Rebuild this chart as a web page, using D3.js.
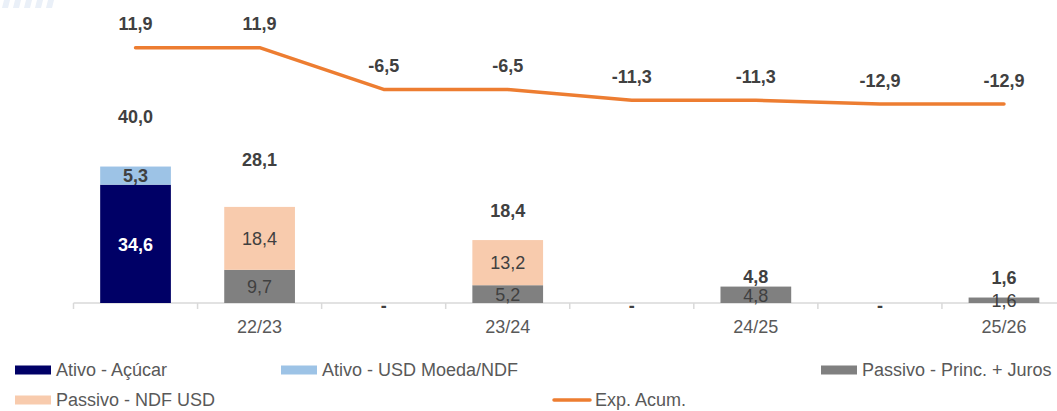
<!DOCTYPE html>
<html>
<head>
<meta charset="utf-8">
<script src="https://cdn.jsdelivr.net/npm/d3@7"></script>
<style>
  body { margin: 0; background: #fff; }
  svg { display: block; font-family: "Liberation Sans", Arial, sans-serif; }
</style>
</head>
<body>
<div class="js-chart"></div>
<script>
'use strict';

// categories on the x axis (empty slots are the asset columns)
var categories = ['', '22/23', '', '23/24', '', '24/25', '', '25/26'];

// stacked series
var ativoAcucar = [34.6, 0, 0, 0, 0, 0, 0, 0];
var ativoUsd = [5.3, 0, 0, 0, 0, 0, 0, 0];
var passivoPrinc = [0, 9.7, 0, 5.2, 0, 4.8, 0, 1.6];
var passivoNdf = [0, 18.4, 0, 13.2, 0, 0, 0, 0];

// column totals as labelled in the source (0 shows as "-")
var totals = [40.0, 28.1, 0, 18.4, 0, 4.8, 0, 1.6];

// line series
var expAcum = [11.9, 11.9, -6.5, -6.5, -11.3, -11.3, -12.9, -12.9];

var series = [
    {key: 'Ativo - Açúcar', values: ativoAcucar, color: '#000066', label: '#ffffff', bold: true},
    {key: 'Ativo - USD Moeda/NDF', values: ativoUsd, color: '#9dc3e6', label: '#404040', bold: true},
    {key: 'Passivo - Princ. + Juros', values: passivoPrinc, color: '#808080', label: '#404040', bold: false},
    {key: 'Passivo - NDF USD', values: passivoNdf, color: '#f8cbad', label: '#404040', bold: false}
];

var W = 1057, H = 411;
var axisY = 303;

var fmt = function (v) { return d3.format('.1f')(v).replace('.', ',').replace('\u2212', '-'); };

var svg = d3.select('.js-chart').append('svg')
    .attr('width', W)
    .attr('height', H);

//faint decoration at top left
svg.selectAll('.deco').data(d3.range(5)).enter().append('path')
    .attr('d', function (i) {
        var px = 4 + i * 11;
        return 'M' + px + ' 0 h6 l-2 8 h-6 z';
    })
    .style('fill', '#eaf0f8');

var x = d3.scaleBand()
    .domain(d3.range(categories.length))
    .range([73.5, 1066])
    .paddingInner(0.43)
    .paddingOuter(0.215);

var y = d3.scaleLinear().domain([0, 40]).range([axisY, 166.2]);
var yLine = d3.scaleLinear().domain([-20, 20]).range([120.1, 29.3]);

var step = x.step();
var x0 = 73.5;
var cx = function (i) { return x(i) + x.bandwidth() / 2; };

//axis line and ticks
svg.append('line')
    .attr('x1', x0).attr('x2', W)
    .attr('y1', axisY).attr('y2', axisY)
    .style('stroke', '#d9d9d9').style('stroke-width', 1.5);

svg.selectAll('.tick').data(d3.range(categories.length)).enter().append('line')
    .attr('x1', function (i) { return x0 + i * step; })
    .attr('x2', function (i) { return x0 + i * step; })
    .attr('y1', axisY).attr('y2', axisY + 6)
    .style('stroke', '#d9d9d9').style('stroke-width', 1.5);

//stacked bars
var stackData = categories.map(function (c, i) {
    var o = {i: i};
    series.forEach(function (s) { o[s.key] = s.values[i]; });
    return o;
});
var stacked = d3.stack().keys(series.map(function (s) { return s.key; }))(stackData);

stacked.forEach(function (layer, li) {
    var s = series[li];
    var g = svg.append('g');
    var nonZero = layer.filter(function (d) { return d[1] - d[0] > 0; });
    g.selectAll('rect').data(nonZero).enter().append('rect')
        .attr('x', function (d) { return x(d.data.i); })
        .attr('width', x.bandwidth())
        .attr('y', function (d) { return y(d[1]); })
        .attr('height', function (d) { return y(d[0]) - y(d[1]); })
        .style('fill', s.color);

    g.selectAll('text').data(nonZero).enter().append('text')
        .attr('x', function (d) { return cx(d.data.i); })
        .attr('y', function (d) { return (y(d[0]) + y(d[1])) / 2 + 2; })
        .attr('text-anchor', 'middle')
        .attr('dominant-baseline', 'middle')
        .style('font-size', '18px')
        .style('font-weight', s.bold ? 'bold' : 'normal')
        .style('fill', s.label)
        .text(function (d) { return fmt(d[1] - d[0]); });
});

//totals above bars (label offsets as placed in the source)
var totalDy = [-48, -46, 0, -28, 0, -8, 0, -18];

svg.selectAll('.total').data(totals).enter().append('text')
    .attr('x', function (d, i) { return cx(i); })
    .attr('y', function (d, i) { return d > 0 ? y(d) + totalDy[i] : axisY + 4; })
    .attr('text-anchor', 'middle')
    .attr('dominant-baseline', 'middle')
    .style('font-size', '18px')
    .style('font-weight', 'bold')
    .style('fill', '#404040')
    .text(function (d) { return d > 0 ? fmt(d) : '-'; });

//category labels
svg.selectAll('.cat').data(categories).enter().append('text')
    .attr('x', function (d, i) { return cx(i); })
    .attr('y', 328)
    .attr('text-anchor', 'middle')
    .attr('dominant-baseline', 'middle')
    .style('font-size', '18px')
    .style('fill', '#595959')
    .text(function (d) { return d; });

//exposure line
var line = d3.line()
    .x(function (d, i) { return cx(i); })
    .y(function (d) { return yLine(d); });

svg.append('path')
    .datum(expAcum)
    .attr('d', line)
    .style('fill', 'none')
    .style('stroke', '#ed7d31')
    .style('stroke-width', 3.5)
    .style('stroke-linecap', 'round')
    .style('stroke-linejoin', 'round');

svg.selectAll('.exp').data(expAcum).enter().append('text')
    .attr('x', function (d, i) { return cx(i); })
    .attr('y', function (d) { return yLine(d) - 22; })
    .attr('text-anchor', 'middle')
    .attr('dominant-baseline', 'middle')
    .style('font-size', '18px')
    .style('font-weight', 'bold')
    .style('fill', '#404040')
    .text(fmt);

//legend
var legend = [
    {name: series[0].key, color: series[0].color, x: 15, y: 370},
    {name: series[1].key, color: series[1].color, x: 281, y: 370},
    {name: series[2].key, color: series[2].color, x: 821, y: 370},
    {name: series[3].key, color: series[3].color, x: 15, y: 400},
    {name: 'Exp. Acum.', color: '#ed7d31', x: 553, y: 400, line: true}
];

var lg = svg.selectAll('.lg').data(legend).enter().append('g');
lg.filter(function (d) { return !d.line; }).append('rect')
    .attr('x', function (d) { return d.x; })
    .attr('y', function (d) { return d.y - 4.5; })
    .attr('width', 36).attr('height', 9)
    .style('fill', function (d) { return d.color; });
lg.filter(function (d) { return d.line; }).append('line')
    .attr('x1', function (d) { return d.x + 1; })
    .attr('x2', function (d) { return d.x + 37; })
    .attr('y1', function (d) { return d.y; })
    .attr('y2', function (d) { return d.y; })
    .style('stroke', function (d) { return d.color; })
    .style('stroke-width', 3.5)
    .style('stroke-linecap', 'round');
lg.append('text')
    .attr('x', function (d) { return d.x + (d.line ? 42 : 41); })
    .attr('y', function (d) { return d.y + 1; })
    .attr('dominant-baseline', 'middle')
    .style('font-size', '18px')
    .style('fill', '#595959')
    .text(function (d) { return d.name; });
</script>
</body>
</html>
